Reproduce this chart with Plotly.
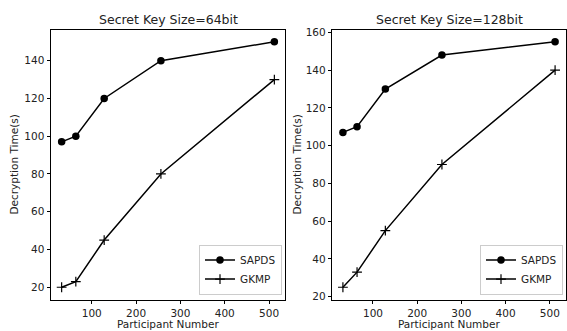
import plotly.graph_objects as go

participants = [32, 64, 128, 256, 512]
sapds_64 = [97, 100, 120, 140, 150]
gkmp_64 = [20, 23, 45, 80, 130]
sapds_128 = [107, 110, 130, 148, 155]
gkmp_128 = [25, 33, 55, 90, 140]
titles = ["Secret Key Size=64bit", "Secret Key Size=128bit"]
x_label = "Participant Number"
y_label = "Decryption Time(s)"

W, H = 567, 331
FONT = "DejaVu Sans"

fig = go.Figure()

def add_pair(sapds, gkmp, xa, ya, legend):
    fig.add_trace(go.Scatter(x=participants, y=sapds, mode="lines+markers", name="SAPDS",
                             xaxis=xa, yaxis=ya, legend=legend,
                             line=dict(color="black", width=1.5),
                             marker=dict(symbol="circle", size=7.5, color="black")))
    fig.add_trace(go.Scatter(x=participants, y=gkmp, mode="lines+markers", name="GKMP",
                             xaxis=xa, yaxis=ya, legend=legend,
                             line=dict(color="black", width=1.5),
                             marker=dict(symbol="cross-thin", size=7,
                                         line=dict(color="black", width=1.2), color="black")))

add_pair(sapds_64, gkmp_64, "x", "y", "legend")
add_pair(sapds_128, gkmp_128, "x2", "y2", "legend2")

ydom = [1 - 302 / H, 1 - 27 / H]
dom1 = [51 / W, 285 / W]
dom2 = [332.3 / W, 565.7 / W]

axis_common = dict(showline=True, linecolor="black", linewidth=1, mirror=True,
                   ticks="outside", ticklen=3.5, tickcolor="black", tickwidth=1,
                   showgrid=False, zeroline=False,
                   tickfont=dict(family=FONT, size=10.5, color="#222"))

legend_common = dict(xanchor="right", yanchor="bottom",
                     bordercolor="#ccc", borderwidth=1, bgcolor="rgba(255,255,255,0.8)",
                     font=dict(family=FONT, size=10.5, color="#222"), itemwidth=30,
                     tracegroupgap=0)

fig.update_layout(
    width=W, height=H,
    margin=dict(l=0, r=0, t=0, b=0),
    plot_bgcolor="white", paper_bgcolor="white",
    font=dict(family=FONT, color="#222"),
    xaxis=dict(domain=dom1, range=[8, 536], tickvals=[100, 200, 300, 400, 500], anchor="y", **axis_common),
    yaxis=dict(domain=ydom, range=[13.5, 156.5], tickvals=[20, 40, 60, 80, 100, 120, 140], anchor="x", **axis_common),
    xaxis2=dict(domain=dom2, range=[8, 536], tickvals=[100, 200, 300, 400, 500], anchor="y2", **axis_common),
    yaxis2=dict(domain=ydom, range=[18.5, 161.5], tickvals=[20, 40, 60, 80, 100, 120, 140, 160], anchor="x2", **axis_common),
    legend=dict(x=282 / W, y=1 - 297 / H, **legend_common),
    legend2=dict(x=563 / W, y=1 - 297 / H, **legend_common),
    showlegend=True,
)

for dom, t in zip([dom1, dom2], titles):
    cx = (dom[0] + dom[1]) / 2
    fig.add_annotation(text=t, x=cx, y=1 - 17 / H, xref="paper", yref="paper",
                       showarrow=False, font=dict(family=FONT, size=12.5, color="#222"),
                       xanchor="center", yanchor="middle")
    fig.add_annotation(text=x_label, x=cx, y=1 - 320 / H, xref="paper", yref="paper",
                       showarrow=False, font=dict(family=FONT, size=10.5, color="#222"),
                       xanchor="center", yanchor="top", borderpad=0)

for xpix in [14, 297]:
    fig.add_annotation(text=y_label, x=xpix / W, y=(ydom[0] + ydom[1]) / 2, xref="paper", yref="paper",
                       showarrow=False, textangle=-90, font=dict(family=FONT, size=10.5, color="#222"),
                       xanchor="center", yanchor="middle")

fig.write_html("out.html", config={"displayModeBar": False},
               post_script="document.body.style.margin='0';document.body.style.overflow='hidden';")
